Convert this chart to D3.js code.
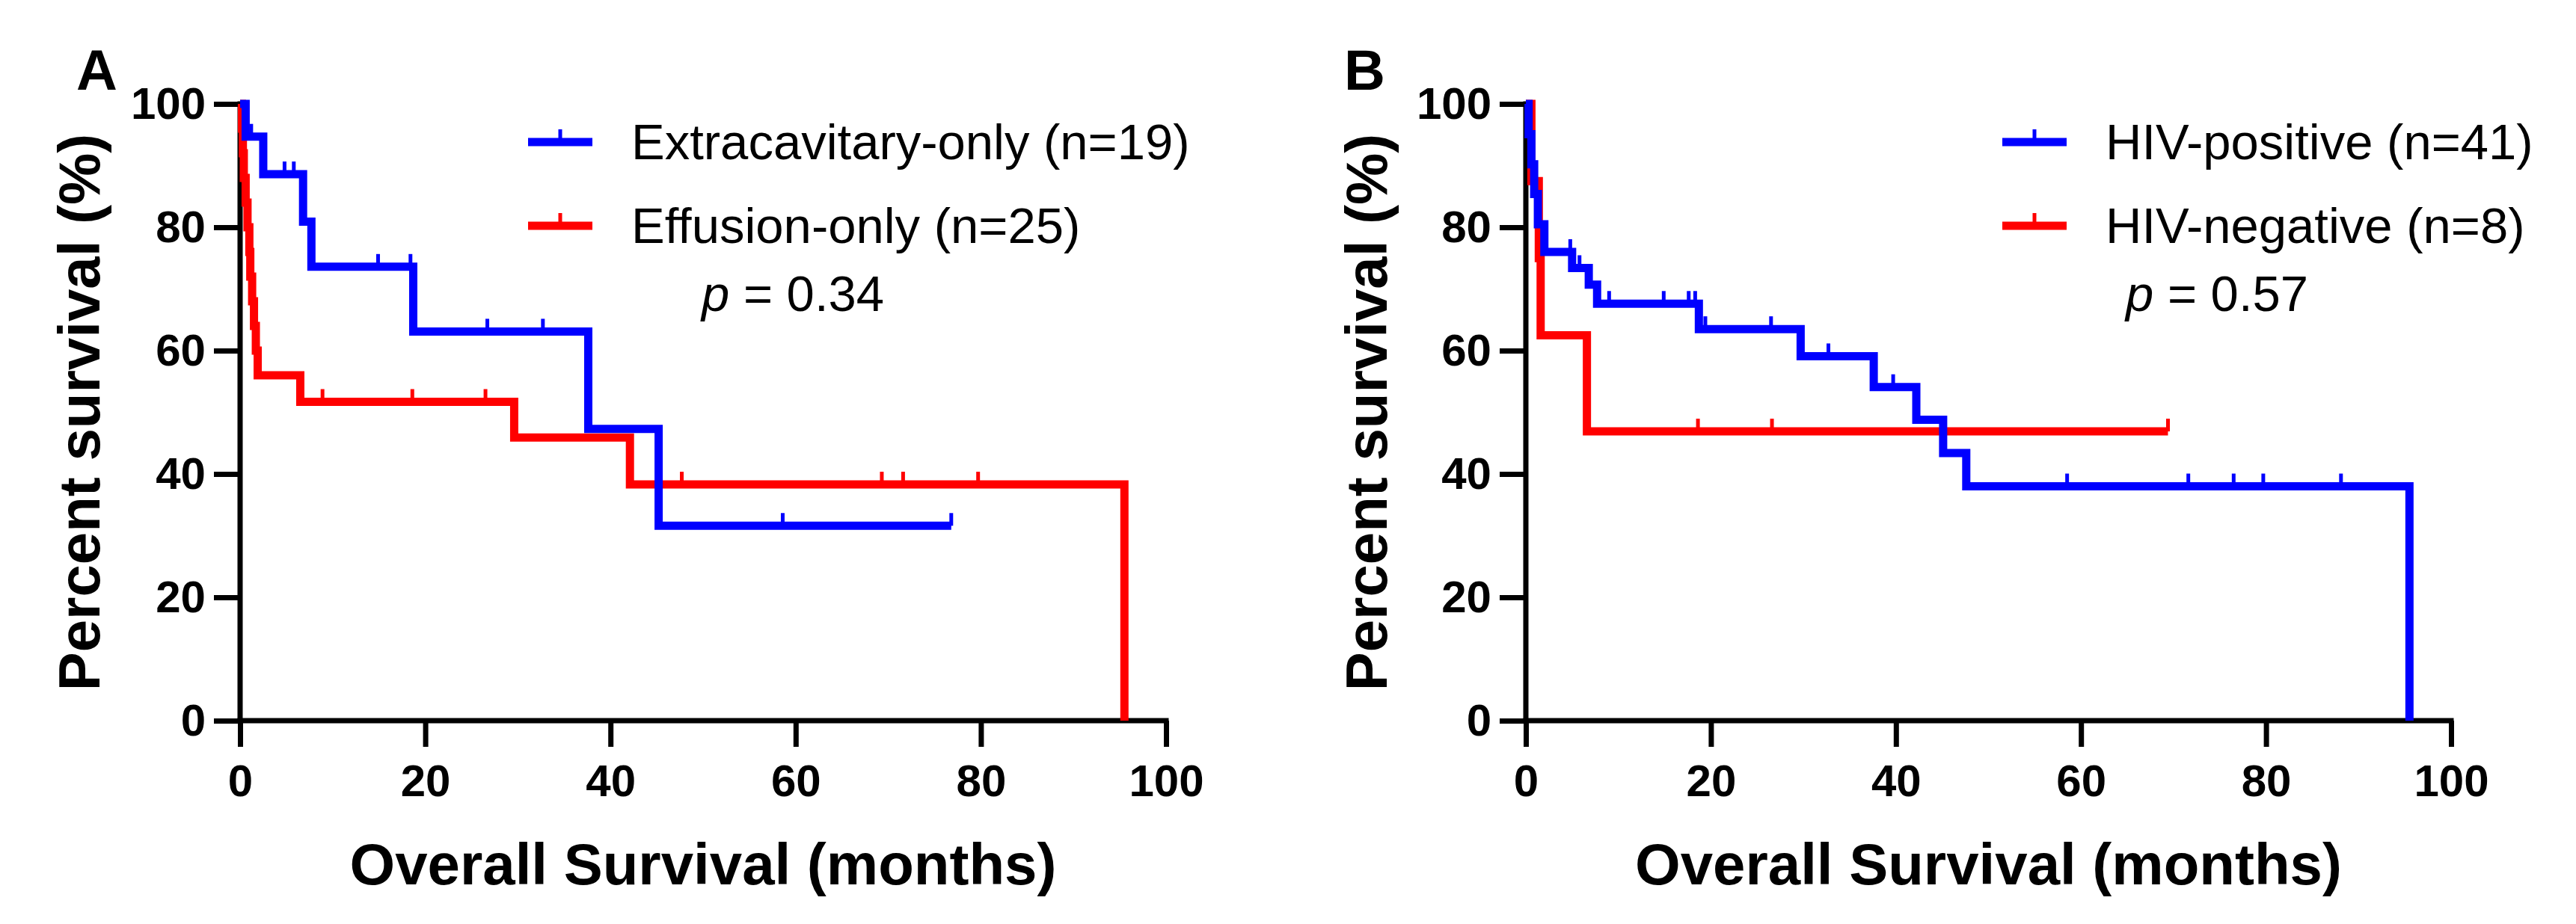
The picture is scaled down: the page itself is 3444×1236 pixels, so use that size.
<!DOCTYPE html>
<html lang="en">
<head>
  <meta charset="UTF-8">
  <title>Overall survival</title>
  <style>
    body { margin: 0; background: #fff; }
    svg { display: block; }
  </style>
</head>
<body>
  <svg id="svg" width="3444" height="1236"></svg>

  <script src="https://d3js.org/d3.v7.min.js"></script>
  <script>
    // ---- data (months, percent survival) ----
    // panel A
    var extraT = [0, 0.6, 2.5, 6.8, 7.7, 18.7, 37.6, 45.2, 76.8];
    var extraS = [100, 94.7, 88.6, 80.9, 73.6, 63.1, 47.3, 31.6, 31.6];
    var extraCens = [1.2, 4.8, 5.8, 14.9, 18.4, 26.7, 32.7, 58.6, 76.8];

    var effT = [0, 0.2, 0.3, 0.4, 0.6, 0.8, 1.0, 1.1, 1.3, 1.5, 1.7, 1.9, 6.5, 29.6, 42.1, 95.5];
    var effS = [100, 96, 92, 88, 84, 80, 76, 72, 68, 64, 60, 56, 51.7, 45.9, 38.3, 0];
    var effCens = [8.9, 18.6, 26.5, 47.7, 69.3, 71.6, 79.7];

    // panel B
    var posT = [0, 0.3, 0.6, 0.9, 1.3, 2.0, 5.0, 6.8, 7.7, 18.7, 29.7, 37.6, 42.2, 45.1, 47.6, 95.5];
    var posS = [100, 95.1, 90.2, 85.4, 80.5, 76.0, 73.4, 70.7, 67.6, 63.5, 59.1, 54.1, 48.8, 43.4, 38.0, 0];
    var posCens = [4.8, 5.8, 9.0, 14.9, 17.6, 18.3, 19.4, 26.5, 32.7, 39.7, 58.5, 71.6, 76.5, 79.7, 88.1];

    var negT = [0, 0.6, 1.4, 1.6, 6.6, 69.4];
    var negS = [100, 87.5, 75, 62.5, 46.9, 46.9];
    var negCens = [18.6, 26.6, 69.4];

    var xTicks = [0, 20, 40, 60, 80, 100];
    var yTicks = [0, 20, 40, 60, 80, 100];

    var legendA = ["Extracavitary-only (n=19)", "Effusion-only (n=25)"];
    var legendB = ["HIV-positive (n=41)", "HIV-negative (n=8)"];
    var pA = "0.34", pB = "0.57";

    var BLUE = "#0000ff", RED = "#ff0000";
    var FONT = "'Liberation Sans', Arial, Helvetica, sans-serif";

    var svg = d3.select("svg");

    var panels = [
      {
        letter: "A", letterX: 102, left: 321, right: 1559, titleX: 133,
        legX: 706, legTextX: 844, pX: 938, legend: legendA, p: pA,
        series: [
          { t: effT, s: effS, c: effCens, color: RED },
          { t: extraT, s: extraS, c: extraCens, color: BLUE }
        ],
        legendColors: [BLUE, RED]
      },
      {
        letter: "B", letterX: 1797, left: 2040, right: 3277, titleX: 1854,
        legX: 2677, legTextX: 2815, pX: 2842, legend: legendB, p: pB,
        series: [
          { t: negT, s: negS, c: negCens, color: RED },
          { t: posT, s: posS, c: posCens, color: BLUE }
        ],
        legendColors: [BLUE, RED]
      }
    ];

    var plotTop = 139, plotBottom = 964;
    var y = d3.scaleLinear().domain([0, 100]).range([plotBottom, plotTop]);

    panels.forEach(function (p) {
      var x = d3.scaleLinear().domain([0, 100]).range([p.left, p.right]);
      var g = svg.append("g");

      // axes first, curves drawn over them
      var yAxis = g.append("g")
        .attr("transform", "translate(" + p.left + ",0)")
        .call(d3.axisLeft(y).tickValues(yTicks).tickSize(35).tickSizeOuter(0).tickPadding(11));
      var xAxis = g.append("g")
        .attr("transform", "translate(0," + plotBottom + ")")
        .call(d3.axisBottom(x).tickValues(xTicks).tickSize(35).tickSizeOuter(0).tickPadding(23));

      [yAxis, xAxis].forEach(function (a) {
        a.selectAll("path, line").attr("stroke", "#000").attr("stroke-width", 7);
        a.selectAll("text")
          .attr("fill", "#000")
          .attr("font-family", FONT)
          .attr("font-weight", "bold")
          .attr("font-size", 60);
      });
      yAxis.select(".domain").attr("d", "M0," + (plotBottom + 3.5) + "V" + (plotTop - 3.5));
      xAxis.select(".domain").attr("d", "M" + (-3.5 + p.left) + ",0H" + (p.right + 3.5));

      // curves (red below, blue on top)
      var line = d3.line()
        .x(function (d) { return x(d[0]); })
        .y(function (d) { return y(d[1]); })
        .curve(d3.curveStepAfter);

      p.series.forEach(function (ser) {
        var pts = ser.t.map(function (t, i) { return [t, ser.s[i]]; });
        g.append("path")
          .attr("d", line(pts))
          .attr("fill", "none")
          .attr("stroke", ser.color)
          .attr("stroke-width", 11)
          .attr("stroke-linejoin", "miter");

        // survival level at a censor time
        var level = function (c) {
          var v = ser.s[0];
          for (var i = 0; i < ser.t.length; i++) if (ser.t[i] <= c) v = ser.s[i];
          return v;
        };
        g.selectAll(null)
          .data(ser.c)
          .enter().append("line")
          .attr("x1", function (d) { return x(d); })
          .attr("x2", function (d) { return x(d); })
          .attr("y1", function (d) { return y(level(d)); })
          .attr("y2", function (d) { return y(level(d)) - 17; })
          .attr("stroke", ser.color)
          .attr("stroke-width", 5);
      });

      // titles
      g.append("text")
        .attr("x", (p.left + p.right) / 2)
        .attr("y", 1183)
        .attr("text-anchor", "middle")
        .attr("font-family", FONT)
        .attr("font-weight", "bold")
        .attr("font-size", 78)
        .text("Overall Survival (months)");

      g.append("text")
        .attr("transform", "translate(" + p.titleX + "," + ((plotTop + plotBottom) / 2) + ")rotate(-90)")
        .attr("text-anchor", "middle")
        .attr("font-family", FONT)
        .attr("font-weight", "bold")
        .attr("font-size", 78)
        .text("Percent survival (%)");

      g.append("text")
        .attr("x", p.letterX)
        .attr("y", 120)
        .attr("font-family", FONT)
        .attr("font-weight", "bold")
        .attr("font-size", 76)
        .text(p.letter);

      // legend
      var leg = g.selectAll(".leg")
        .data(p.legend)
        .enter().append("g")
        .attr("transform", function (d, i) { return "translate(0," + (190 + i * 112) + ")"; });

      leg.append("line")
        .attr("x1", p.legX).attr("x2", p.legX + 86)
        .attr("stroke", function (d, i) { return p.legendColors[i]; })
        .attr("stroke-width", 11);
      leg.append("line")
        .attr("x1", p.legX + 43).attr("x2", p.legX + 43)
        .attr("y1", 0).attr("y2", -17)
        .attr("stroke", function (d, i) { return p.legendColors[i]; })
        .attr("stroke-width", 5);
      leg.append("text")
        .attr("x", p.legTextX)
        .attr("y", 23)
        .attr("font-family", FONT)
        .attr("font-size", 67)
        .attr("fill", "#000")
        .text(function (d) { return d; });

      var pt = g.append("text")
        .attr("x", p.pX)
        .attr("y", 416)
        .attr("font-family", FONT)
        .attr("font-size", 67);
      pt.append("tspan").attr("font-style", "italic").text("p");
      pt.append("tspan").text(" = " + p.p);
    });
  </script>
</body>
</html>
